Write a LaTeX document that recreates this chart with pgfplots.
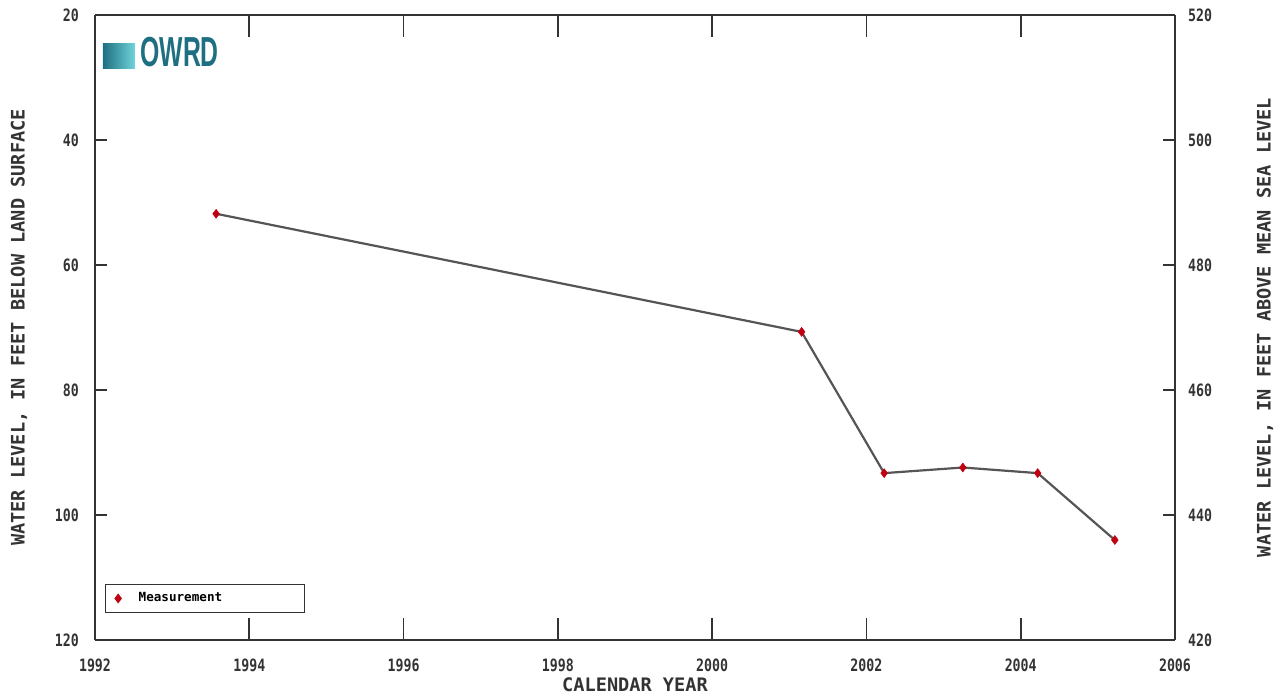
\documentclass[border=0pt]{standalone}
\usepackage{pgfplots}
\pgfplotsset{compat=1.18}
\usepackage{fontspec}
\setmainfont{DejaVu Sans Mono}
\newfontfamily\tickfont[FakeStretch=0.78]{DejaVu Sans Mono}
\newfontfamily\logofont[FakeStretch=0.59]{Liberation Sans}
\definecolor{linegray}{HTML}{555555}
\definecolor{markred}{HTML}{C00010}
\definecolor{txtgray}{HTML}{333333}
\definecolor{logoteal}{HTML}{1F6F82}
\begin{document}
\begin{tikzpicture}
\begin{axis}[
  scale only axis,
  width=540pt, height=312.5pt,
  xmin=1992, xmax=2006, ymin=20, ymax=120,
  y dir=reverse,
  xtick={1992,1994,...,2006},
  ytick={20,40,...,120},
  axis y line*=left,
  tick align=inside,
  xtick style={/pgfplots/major tick length=11pt, line width=0.8pt, draw=txtgray},
  ytick style={/pgfplots/major tick length=6pt, line width=0.8pt, draw=txtgray},
  axis line style={line width=0.8pt, draw=txtgray},
  /pgf/number format/assume math mode=true,
  /pgf/number format/1000 sep={},
  xticklabel style={font=\tickfont\bfseries\fontsize{8.5}{9}\selectfont, text=txtgray, yshift=-6pt},
  yticklabel style={font=\tickfont\bfseries\fontsize{8.5}{9}\selectfont, text=txtgray, xshift=-4.5pt},
  xlabel={CALENDAR YEAR},
  xlabel style={font=\bfseries\fontsize{9.3}{10}\selectfont, text=txtgray, yshift=4pt},
  ylabel={WATER LEVEL, IN FEET BELOW LAND SURFACE},
  ylabel style={font=\bfseries\fontsize{9.3}{10}\selectfont, text=txtgray, yshift=7pt},
  legend style={at={(rel axis cs:0.0093,0.043)}, anchor=south west, draw=txtgray, line width=0.6pt,
    font=\bfseries\fontsize{6.3}{7}\selectfont, inner sep=2pt},
  legend cell align=left,
  legend image code/.code={\path (0cm,0cm) (0.42cm,0cm); \draw[#1] plot coordinates {(0.14cm,0cm)};},
  clip=false,
]
\addplot[forget plot, color=linegray, line width=1.1pt, mark=diamond*, mark size=2.2pt,
  mark options={draw=markred, fill=markred, line width=0.3pt}]
  coordinates {
  (1993.57,51.8) (2001.16,70.7) (2002.23,93.3) (2003.25,92.4) (2004.22,93.3) (2005.22,104.0)
  };
\addlegendimage{only marks, mark=diamond*, mark size=2pt, draw=markred, fill=markred}
\legend{\makebox[79pt][l]{Measurement}}
\node[anchor=west, font=\logofont\bfseries\fontsize{21}{21}\selectfont, text=logoteal, inner sep=0pt]
  at (rel axis cs:0.0417,0.941) {OWRD};
\fill[left color=logoteal, right color=logoteal!50!cyan!60!white]
  (rel axis cs:0.0074,0.915) rectangle (rel axis cs:0.037,0.955);
\end{axis}
\begin{axis}[
  scale only axis,
  width=540pt, height=312.5pt,
  xmin=1992, xmax=2006, ymin=420, ymax=520,
  axis y line*=right,
  axis x line=none,
  ytick={420,440,...,520},
  tick align=inside,
  ytick style={/pgfplots/major tick length=6pt, line width=0.8pt, draw=txtgray},
  axis line style={line width=0.8pt, draw=txtgray},
  /pgf/number format/assume math mode=true,
  yticklabel style={font=\tickfont\bfseries\fontsize{8.5}{9}\selectfont, text=txtgray, xshift=3pt},
  ylabel={WATER LEVEL, IN FEET ABOVE MEAN SEA LEVEL},
  ylabel style={font=\bfseries\fontsize{9.3}{10}\selectfont, text=txtgray, yshift=-15.5pt},
]
\end{axis}
\pgfresetboundingbox
\path[use as bounding box] (-47.5pt,-28.5pt) rectangle (593pt,320pt);
\end{tikzpicture}
\end{document}
